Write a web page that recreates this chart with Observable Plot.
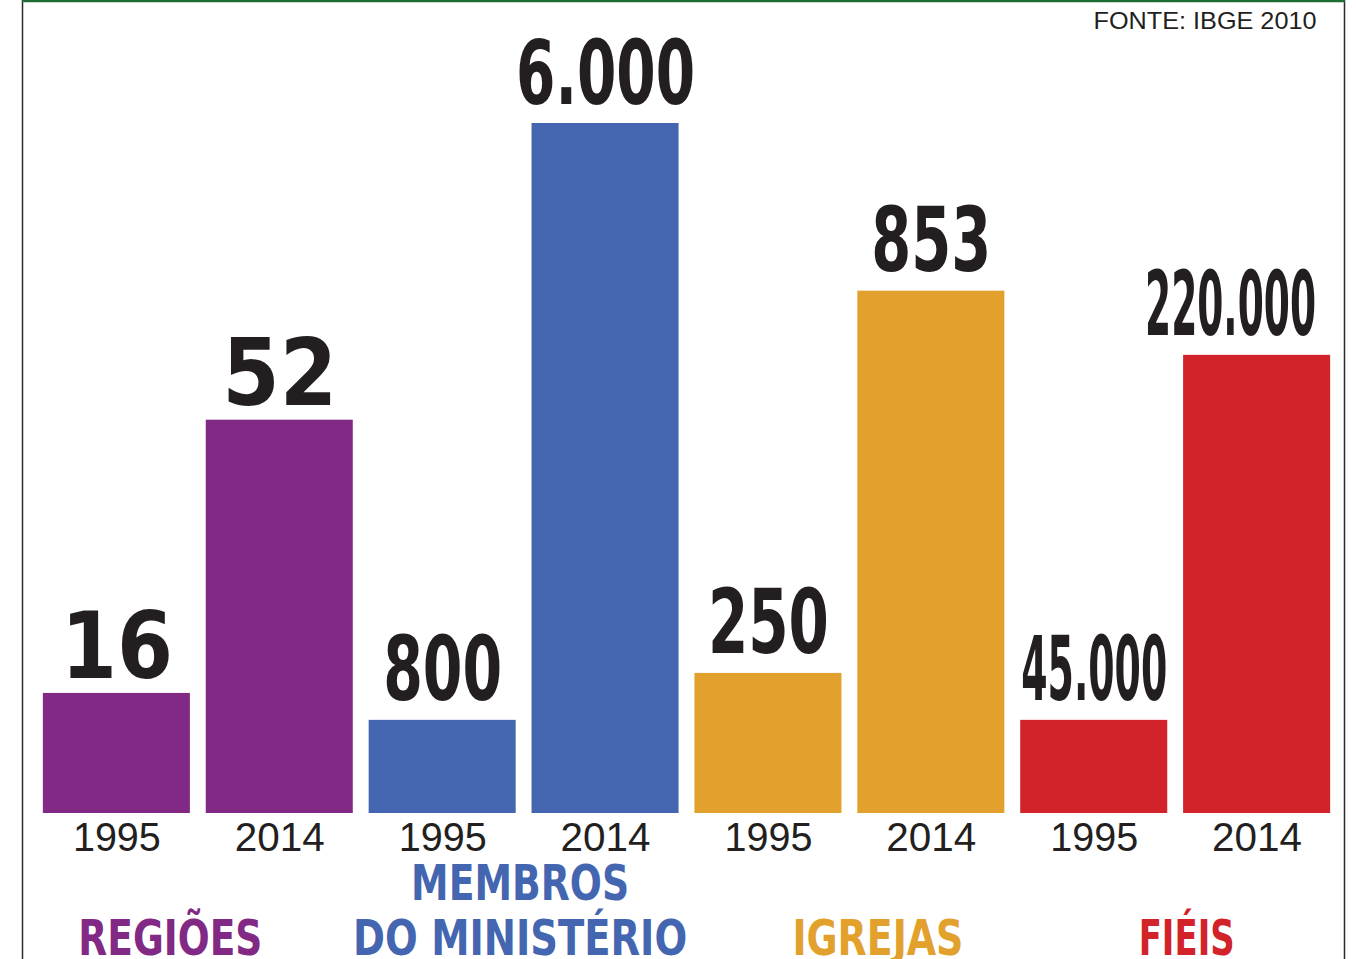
<!DOCTYPE html>
<html><head><meta charset="utf-8">
<script src="https://cdn.jsdelivr.net/npm/d3@7"></script>
<script src="https://cdn.jsdelivr.net/npm/@observablehq/plot@0.6"></script>
<style>body{margin:0;background:#fff;} svg{display:block;}</style>
</head><body><div id="chart"></div>
<script>
// ---- data ----
const groups = ["REGIÕES", "MEMBROS\nDO MINISTÉRIO", "IGREJAS", "FIÉIS"];
const years = ["1995", "2014"];
const values1995 = [16, 800, 250, 45000];
const values2014 = [52, 6000, 853, 220000];
// drawn bar heights, relative to the tallest bar (= 100); the infographic scales each group separately
const heights1995 = [17.4, 13.5, 20.3, 13.5];
const heights2014 = [57.0, 100, 75.7, 66.4];
const source = "FONTE: IBGE 2010";

const ptBR = d3.formatLocale({decimal: ",", thousands: ".", grouping: [3], currency: ["R$", ""]});
const fmt = ptBR.format(",d");

const rows = groups.flatMap((g, i) => [
  {group: g, gi: i, year: years[0], key: g + "|" + years[0], value: values1995[i], h: heights1995[i]},
  {group: g, gi: i, year: years[1], key: g + "|" + years[1], value: values2014[i], h: heights2014[i]}
]);

// ---- styling ----
const palette = ["#812984", "#4465AF", "#E2A02D", "#D2232A"];
const labelShift = [-28, -4, 28, 11];
const narrow = "'Liberation Sans Narrow', 'DejaVu Sans Condensed', 'Arial Narrow', sans-serif";
const sans = "'Liberation Sans', Arial, Helvetica, sans-serif";
const ink = "#231F20";
// rendered widths of the texts in the reference (the original uses condensed display fonts)
const fitWidth = {
  "16": 112, "52": 115, "800": 119, "6.000": 179, "250": 121, "853": 120, "45.000": 146, "220.000": 171,
  "REGIÕES": 184, "MEMBROS": 218, "DO MINISTÉRIO": 334, "IGREJAS": 171, "FIÉIS": 96,
  "FONTE: IBGE 2010": 223, "1995": 88, "2014": 90
};

const groupLabelMarks = groups.map((g, i) => Plot.text([rows[2 * i + 1]], {
  x: "key", text: () => g, frameAnchor: "bottom", lineAnchor: "bottom",
  dy: 141, dx: -81.43 + labelShift[i], lineHeight: 1.1,
  fill: palette[i], fontFamily: narrow, fontWeight: "bold", fontSize: 50
}));

const chart = Plot.plot({
  width: 1356, height: 959,
  marginLeft: 27, marginRight: 10, marginTop: 123, marginBottom: 146,
  x: {domain: rows.map(d => d.key), padding: 0.0974, round: false, axis: null},
  y: {domain: [0, 100], axis: null},
  color: {domain: groups, range: palette},
  marks: [
    Plot.barY(rows, {x: "key", y: "h", fill: "group"}),
    Plot.text(rows.filter(d => d.gi === 0), {
      x: "key", y: "h", text: d => fmt(d.value), lineAnchor: "bottom", dy: -15,
      fill: ink, fontFamily: "'DejaVu Sans', sans-serif", fontWeight: "bold", fontSize: 92,
      className: "vlab"
    }),
    Plot.text(rows.filter(d => d.gi > 0), {
      x: "key", y: "h", text: d => fmt(d.value), lineAnchor: "bottom", dy: -20,
      fill: ink, fontFamily: narrow, fontWeight: "bold", fontSize: 89,
      className: "vlab"
    }),
    Plot.text(rows, {
      x: "key", text: "year", frameAnchor: "bottom", lineAnchor: "bottom", dy: 37,
      fill: ink, fontFamily: sans, fontSize: 41
    }),
    ...groupLabelMarks,
    Plot.text([source], {
      text: d => d, frameAnchor: "top-right", textAnchor: "end", lineAnchor: "bottom",
      dx: -30, dy: -95, fill: ink, fontFamily: sans, fontSize: 24
    })
  ]
});
document.getElementById("chart").appendChild(chart);

// fit each text to the width it has in the reference
d3.select(chart).selectAll("text, tspan").each(function() {
  if (this.tagName === "text" && this.querySelector("tspan")) return;
  const w = fitWidth[this.textContent];
  if (w) d3.select(this).attr("textLength", w).attr("lengthAdjust", "spacingAndGlyphs");
});

// keep value labels inside the frame (as the original does for the last one)
const rightLimit = 1316;
d3.select(chart).selectAll("g.vlab text").each(function() {
  const r = this.getBoundingClientRect();
  const box = chart.getBoundingClientRect();
  const over = (r.right - box.left) - rightLimit;
  if (over > 0) d3.select(this).attr("dx", -over);
});

// infographic frame
const svg = d3.select(chart);
svg.append("line").attr("x1", 22.5).attr("x2", 22.5).attr("y1", 0).attr("y2", 959)
  .attr("stroke", "#2b2b2b").attr("stroke-width", 1.5);
svg.append("line").attr("x1", 1344.5).attr("x2", 1344.5).attr("y1", 0).attr("y2", 959)
  .attr("stroke", "#2b2b2b").attr("stroke-width", 1.5);
svg.append("line").attr("x1", 22).attr("x2", 1345).attr("y1", 1).attr("y2", 1)
  .attr("stroke", "#1F6B36").attr("stroke-width", 2.5);
</script>
</body></html>
